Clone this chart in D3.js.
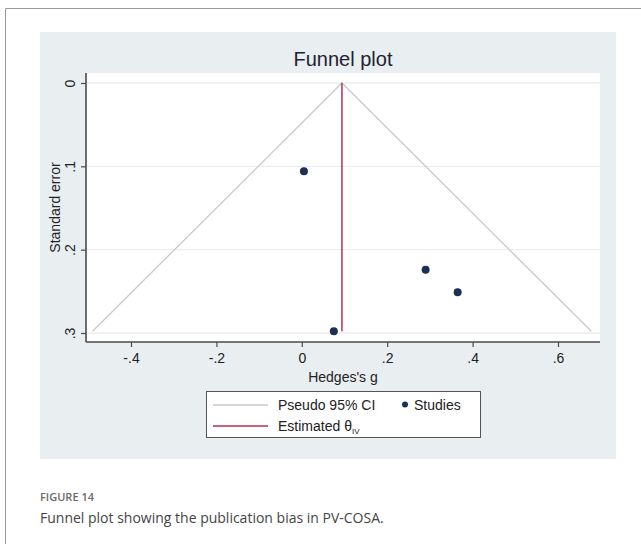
<!DOCTYPE html>
<html><head><meta charset="utf-8">
<script src="https://cdn.jsdelivr.net/npm/d3@7/dist/d3.min.js"></script>
<style>
html,body{margin:0;padding:0;background:#fff;}
svg{display:block;}
</style></head>
<body><svg id="c" width="641" height="544"></svg>
<script>
// ---- data ----
const studyG  = [0.005, 0.29, 0.365, 0.075];
const studySE = [0.106, 0.224, 0.251, 0.298];
const thetaIV = 0.094;
const xTicks = [-0.4, -0.2, 0, 0.2, 0.4, 0.6];
const xTickLabels = ["-.4", "-.2", "0", ".2", ".4", ".6"];
const yTicks = [0, 0.1, 0.2, 0.3];
const yTickLabels = ["0", ".1", ".2", ".3"];
const legendItems = ["Pseudo 95% CI", "Studies", "Estimated θ"];

const svg = d3.select("#c");
const font = "'Liberation Sans', Arial, sans-serif";
const fs = 14;

// page frame
svg.append("line").attr("x1",5.5).attr("x2",641).attr("y1",8.5).attr("y2",8.5).attr("stroke","#9a9a9a");
svg.append("line").attr("x1",5.5).attr("x2",5.5).attr("y1",8.5).attr("y2",544).attr("stroke","#9a9a9a");

// graph region
svg.append("rect").attr("x",40).attr("y",32).attr("width",576).attr("height",427).attr("fill","#e9eef1");

const x = d3.scaleLinear().domain([-0.4, 0.6]).range([131, 558]);
const y = d3.scaleLinear().domain([0, 0.3]).range([83, 333]);
const px0 = 86, px1 = 600, py0 = 73, py1 = 342;

// plot region
svg.append("rect").attr("x",px0).attr("y",py0).attr("width",px1-px0).attr("height",py1-py0).attr("fill","#fff");

// gridlines
svg.append("g").selectAll("line").data(yTicks).join("line")
  .attr("x1",px0).attr("x2",px1).attr("y1",d=>y(d)).attr("y2",d=>y(d))
  .attr("stroke","#eaeef1").attr("stroke-width",1.3);

// title
svg.append("text").attr("x",(px0+px1)/2).attr("y",66).attr("text-anchor","middle")
  .attr("font-family",font).attr("font-size",20).attr("fill","#1f2233").text("Funnel plot");

// funnel
const seMax = d3.max(studySE);
const funnel = [[thetaIV - 1.96*seMax, seMax],[thetaIV, 0],[thetaIV + 1.96*seMax, seMax]];
svg.append("path").attr("d", d3.line().x(d=>x(d[0])).y(d=>y(d[1]))(funnel))
  .attr("fill","none").attr("stroke","#c9c9c9").attr("stroke-width",1.3);

// estimate line
svg.append("line").attr("x1",x(thetaIV)).attr("x2",x(thetaIV)).attr("y1",y(0)).attr("y2",y(seMax))
  .attr("stroke","#b5304f").attr("stroke-width",1.5);

// points
svg.append("g").selectAll("circle").data(studyG.map((g,i)=>[g,studySE[i]])).join("circle")
  .attr("cx",d=>x(d[0])).attr("cy",d=>y(d[1])).attr("r",4).attr("fill","#1c2f55");

// axes
const xAxis = svg.append("g").attr("transform",`translate(0,${py1})`)
  .call(d3.axisBottom(x).tickValues(xTicks).tickFormat((d,i)=>xTickLabels[i]).tickSize(5).tickSizeOuter(0));
xAxis.select(".domain").attr("d",`M${px0},0H${px1}`);
const yAxis = svg.append("g").attr("transform",`translate(${px0},0)`)
  .call(d3.axisLeft(y).tickValues(yTicks).tickFormat((d,i)=>yTickLabels[i]).tickSize(5).tickSizeOuter(0));
yAxis.select(".domain").attr("d",`M0,${py0}V${py1}`);
[xAxis,yAxis].forEach(a=>{
  a.select(".domain").attr("stroke","#4a4a4a").attr("stroke-width",1.6);
  a.selectAll(".tick line").attr("stroke","#4a4a4a").attr("stroke-width",1.2);
  a.selectAll("text").attr("font-family",font).attr("font-size",fs).attr("fill","#222");
});
xAxis.selectAll("text").attr("dy","0.9em");
yAxis.selectAll(".tick text").attr("x",0).attr("dy",0)
  .attr("transform","translate(-16,0) rotate(-90)").attr("text-anchor","middle").attr("dy","0.35em");

// axis titles
svg.append("text").attr("x",(px0+px1)/2).attr("y",382).attr("text-anchor","middle")
  .attr("font-family",font).attr("font-size",fs).attr("fill","#222").text("Hedges's g");
svg.append("text").attr("transform",`translate(60,${(py0+py1)/2}) rotate(-90)`).attr("text-anchor","middle")
  .attr("font-family",font).attr("font-size",fs).attr("fill","#222").text("Standard error");

// legend
const lg = svg.append("g");
lg.append("rect").attr("x",206.5).attr("y",391.5).attr("width",274).attr("height",46)
  .attr("fill","#fff").attr("stroke","#555").attr("stroke-width",1);
lg.append("line").attr("x1",213).attr("x2",268).attr("y1",405).attr("y2",405).attr("stroke","#c9c9c9").attr("stroke-width",1.3);
lg.append("text").attr("x",278).attr("y",410).attr("font-family",font).attr("font-size",fs).attr("fill","#222").text(legendItems[0]);
lg.append("circle").attr("cx",405).attr("cy",404.5).attr("r",3).attr("fill","#1c2f55");
lg.append("text").attr("x",414).attr("y",410).attr("font-family",font).attr("font-size",fs).attr("fill","#222").text(legendItems[1]);
lg.append("line").attr("x1",213).attr("x2",268).attr("y1",426).attr("y2",426).attr("stroke","#b5304f").attr("stroke-width",1.5);
const t3 = lg.append("text").attr("x",278).attr("y",431).attr("font-family",font).attr("font-size",fs).attr("fill","#222");
t3.append("tspan").text(legendItems[2]);
t3.append("tspan").attr("font-size",8).attr("dy",3).text("IV");

// caption
svg.append("text").attr("x",40).attr("y",501).attr("font-family","'Open Sans', sans-serif")
  .attr("font-size",11).attr("font-weight",600).attr("fill","#6b6b6b").text("FIGURE 14");
svg.append("text").attr("x",40).attr("y",523).attr("font-family","'Open Sans', sans-serif")
  .attr("font-size",14).attr("fill","#444").text("Funnel plot showing the publication bias in PV-COSA.");
</script>
</body></html>
